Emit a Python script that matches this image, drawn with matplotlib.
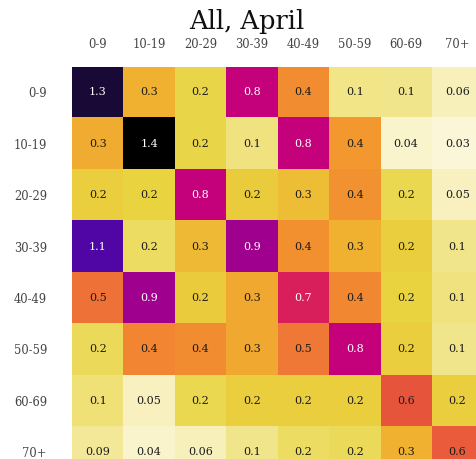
import numpy as np
import matplotlib
matplotlib.use("Agg")
import matplotlib.pyplot as plt
from matplotlib.colors import LinearSegmentedColormap, Normalize

# ---- data ----
age_groups = ["0-9", "10-19", "20-29", "30-39", "40-49", "50-59", "60-69", "70+"]
row_0_9   = [1.33, 0.30, 0.19, 0.80, 0.42, 0.11, 0.10, 0.06]
row_10_19 = [0.32, 1.42, 0.19, 0.12, 0.80, 0.38, 0.04, 0.03]
row_20_29 = [0.22, 0.20, 0.80, 0.23, 0.27, 0.40, 0.18, 0.05]
row_30_39 = [1.08, 0.16, 0.28, 0.90, 0.41, 0.30, 0.22, 0.10]
row_40_49 = [0.50, 0.90, 0.23, 0.33, 0.72, 0.43, 0.20, 0.12]
row_50_59 = [0.17, 0.44, 0.42, 0.33, 0.48, 0.80, 0.22, 0.10]
row_60_69 = [0.13, 0.05, 0.18, 0.22, 0.22, 0.22, 0.60, 0.22]
row_70p   = [0.09, 0.04, 0.06, 0.10, 0.16, 0.17, 0.30, 0.58]
title = "All, April"

values = np.array([row_0_9, row_10_19, row_20_29, row_30_39,
                   row_40_49, row_50_59, row_60_69, row_70p])

# ---- colormap (light -> dark) ----
vmax = 1.42
anchors = [
    (0.00, "#fffdf4"),
    (0.10, "#f2e68c"),
    (0.20, "#e9d540"),
    (0.30, "#f0b232"),
    (0.40, "#f3922f"),
    (0.50, "#ef7238"),
    (0.60, "#e8553c"),
    (0.72, "#d81f5c"),
    (0.80, "#c5007a"),
    (0.90, "#a0008e"),
    (1.08, "#5006a6"),
    (1.33, "#190a38"),
    (1.42, "#000000"),
]
cmap = LinearSegmentedColormap.from_list(
    "custom", [(v / vmax, c) for v, c in anchors])
norm = Normalize(vmin=0, vmax=vmax)

W, H = 477, 459
fig = plt.figure(figsize=(W / 100, H / 100), dpi=100)
left, top, cell = 72, 66.7, 51.4
n = len(age_groups)
ax = fig.add_axes([left / W, 1 - (top + n * cell) / H, n * cell / W, n * cell / H])

ax.imshow(values, cmap=cmap, norm=norm, aspect="auto",
          extent=(-0.5, n - 0.5, n - 0.5, -0.5), interpolation="nearest")

def fmt(v):
    return f"{v:.1f}" if v >= 1 else f"{v:.1g}"

for i in range(n):
    for j in range(n):
        v = values[i, j]
        color = "white" if v >= 0.7 else "#1a1a1a"
        ax.text(j, i, fmt(v), ha="center", va="center", fontsize=8,
                family="DejaVu Serif", color=color)

ax.set_xticks(range(n))
ax.set_yticks(range(n))
ax.set_xticklabels(age_groups, family="DejaVu Serif", fontsize=8.3, color="#444444")
ax.set_yticklabels(age_groups, family="DejaVu Serif", fontsize=8.3, color="#444444")
ax.xaxis.tick_top()
ax.tick_params(axis="x", length=0, pad=11)
ax.tick_params(axis="y", length=0, pad=18)
for s in ax.spines.values():
    s.set_visible(False)

fig.text(247 / W, 1 - 29 / H, title, ha="center", va="baseline",
         fontsize=18.5, family="DejaVu Serif", color="#111111")

fig.savefig("out.png", dpi=100)
